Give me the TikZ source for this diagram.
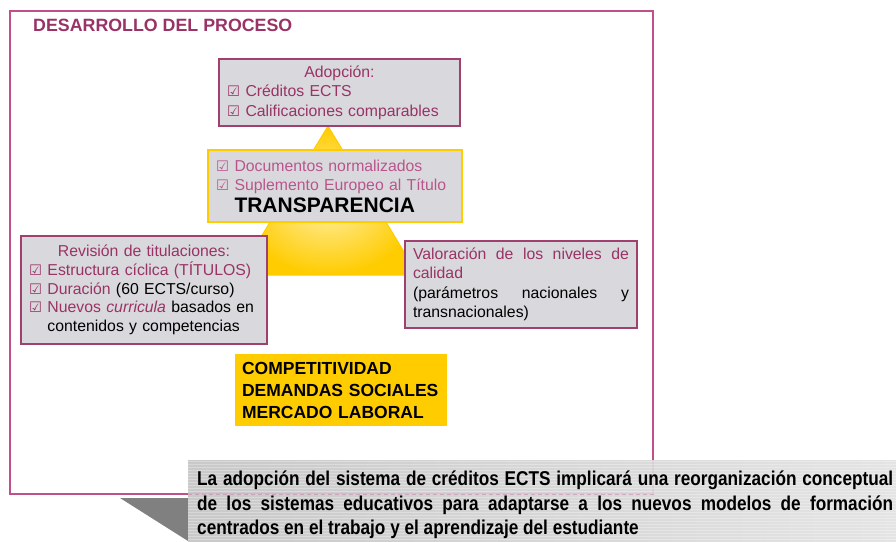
\documentclass[tikz,border=0pt]{standalone}
\usepackage{fontspec}
\setmainfont{Liberation Sans}
\newfontfamily\symfont{DejaVu Sans}
\newfontfamily\narrowfont[FakeStretch=0.86]{Liberation Sans}
\usetikzlibrary{shadings}
\hyphenpenalty=10000
\exhyphenpenalty=10000
\definecolor{framepink}{RGB}{192,80,140}
\definecolor{boxmag}{RGB}{160,64,111}
\definecolor{boxgray}{RGB}{217,217,221}
\definecolor{txtmag}{RGB}{153,51,102}
\definecolor{lightmag}{RGB}{185,85,140}
\definecolor{yel}{RGB}{255,204,0}
\definecolor{yellight}{RGB}{255,240,170}
\definecolor{bandark}{RGB}{196,196,196}
\definecolor{banlight}{RGB}{226,226,226}
\definecolor{tri}{RGB}{128,128,128}
\newcommand\chk{{\symfont\fontsize{14.5}{14.5}\selectfont ☑}\hspace{5.5pt}}
\tikzset{
  graybox/.style={draw=boxmag, line width=1.3pt, fill=boxgray, inner xsep=8pt, inner ysep=4pt,
    align=left, text=txtmag, font=\fontsize{15.8}{19.5}\selectfont},
}
\begin{document}
\begin{tikzpicture}[x=1pt,y=-1pt]
\useasboundingbox (0,0) rectangle (896,541);
% frame
\node (frame) [draw=framepink, line width=1.2pt, minimum width=643pt, minimum height=483pt, inner sep=0pt] at (331.5,252.5) {};
\node (title) [anchor=west, inner sep=0pt, text=txtmag, font=\fontsize{17.8}{20}\selectfont\bfseries] at (33,25) {DESARROLLO DEL PROCESO};
% triangle
\coordinate (apex) at (328,126);
\coordinate (bl) at (238,275);
\coordinate (br) at (418,275);
\shade[inner color=yellight, outer color=yel] (apex) -- (br) -- (bl) -- cycle;
\draw[yel, line width=1pt, line join=round] (apex) -- (br) -- (bl) -- cycle;
% Adopcion
\node (adop) [graybox, minimum width=241pt, minimum height=67pt, text width=225pt] at (339.5,92.5)
 {\makebox[\hsize]{Adopción:}\\ \chk Créditos ECTS\\ \chk Calificaciones comparables};
% Transparencia
\node (transp) [graybox, draw=yel, text=lightmag, minimum width=254pt, minimum height=72pt, text width=238pt, font=\fontsize{15.8}{19}\selectfont] at (335,186)
 {\chk Documentos normalizados\\ \chk Suplemento Europeo al Título\\[3pt]
  \phantom{\chk}{\color{black}\fontsize{21}{22}\selectfont\bfseries TRANSPARENCIA}};
% Revision
\node (revis) [graybox, minimum width=246pt, minimum height=108pt, text width=230pt, font=\fontsize{15.8}{18.8}\selectfont] at (144,290)
 {\makebox[\hsize]{Revisión de titulaciones:}\\
  \chk Estructura cíclica (TÍTULOS)\\
  \chk Duración {\color{black}(60 ECTS/curso)}\\
  \chk Nuevos \textit{curricula} {\color{black}basados en}\\
  \phantom{\chk}{\color{black}contenidos y competencias}};
% Valoracion
\node (valor) [graybox, align=justify, minimum width=232pt, minimum height=87pt, text width=216pt] at (521,284.5)
 {Valoración de los niveles de calidad\par
  {\color{black}(parámetros nacionales y transnacionales)}};
% yellow box
\node (comp) [fill=yel, inner xsep=7pt, inner ysep=0pt, align=left, minimum width=212pt, minimum height=72pt, text width=198pt,
  font=\fontsize{17.5}{22}\selectfont\bfseries] at (341,390)
 {COMPETITIVIDAD\\ DEMANDAS SOCIALES\\ MERCADO LABORAL};
% bottom banner
\coordinate (tA) at (120,498);
\coordinate (tB) at (188,498);
\coordinate (tC) at (188,541);
\fill[tri] (tA) -- (tB) -- (tC) -- cycle;
\node (banner) [left color=bandark, right color=banlight, opacity=0.92, minimum width=708pt, minimum height=81pt, inner sep=0pt] at (542,500.5) {};
\foreach \yy in {461.5,464.5,...,540} \draw[white, opacity=0.3, line width=0.7pt] (banner.west |- 0,\yy) -- (banner.east |- 0,\yy);
\draw[framepink, opacity=0.35, line width=1pt, dash pattern=on 4pt off 3pt] (banner.west |- frame.south) -- (frame.south east);
\node (bantext) [anchor=west, inner sep=0pt, text width=696pt, align=justify,
  font=\narrowfont\fontsize{20}{24.5}\selectfont\bfseries] at (197,505)
 {La adopción del sistema de créditos ECTS implicará una reorganización conceptual\linebreak de los sistemas educativos para adaptarse a los nuevos modelos de formación\linebreak centrados en el trabajo y el aprendizaje del estudiante};
\end{tikzpicture}
\end{document}
